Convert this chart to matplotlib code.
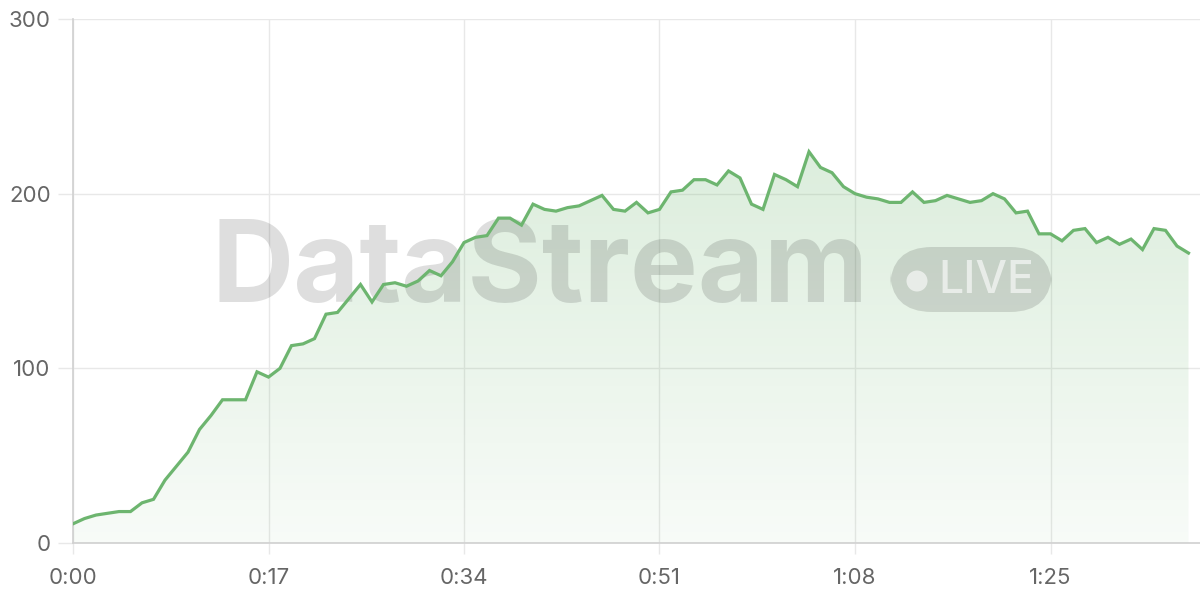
import numpy as np
import matplotlib
matplotlib.use("Agg")
import matplotlib.pyplot as plt
from matplotlib.patches import FancyBboxPatch, Ellipse
from matplotlib.colors import LinearSegmentedColormap

# one reading per minute, 0:00 .. 1:37
values = [11, 14, 16, 17, 18, 18, 23, 25, 36, 44,
          52, 65, 73, 82, 82, 82, 98, 95, 100, 113,
          114, 117, 131, 132, 140, 148, 138, 148, 149, 147,
          150, 156, 153, 161, 172, 175, 176, 186, 186, 182,
          194, 191, 190, 192, 193, 196, 199, 191, 190, 195,
          189, 191, 201, 202, 208, 208, 205, 213, 209, 194,
          191, 211, 208, 204, 224, 215, 212, 204, 200, 198,
          197, 195, 195, 201, 195, 196, 199, 197, 195, 196,
          200, 197, 189, 190, 177, 177, 173, 179, 180, 172,
          175, 171, 174, 168, 180, 179, 170, 166]
minutes = list(range(len(values)))
tick_pos = [0, 17, 34, 51, 68, 85]
tick_labels = ["0:00", "0:17", "0:34", "0:51", "1:08", "1:25"]
y_ticks = [0, 100, 200, 300]

line_color = "#6db56f"
text_color = "#666666"

plt.rcParams['font.family'] = ['Inter', 'DejaVu Sans']

fig = plt.figure(figsize=(12, 6), dpi=100)
ax = fig.add_axes([73/1200, 57/600, 1 - 73/1200, (543 - 19)/600])

ax.set_xlim(0, 98)
ax.set_ylim(0, 300)

# gradient fill under the line
poly = ax.fill_between(minutes, values, 0, color="none", lw=0)
cmap = LinearSegmentedColormap.from_list("g", [(0.427, 0.71, 0.435, 0.05), (0.427, 0.71, 0.435, 0.24)])
grad = np.linspace(0, 1, 256).reshape(-1, 1)
img = ax.imshow(grad, cmap=cmap, origin="lower", aspect="auto",
                extent=[0, 97, 0, 225], zorder=1)
img.set_clip_path(poly.get_paths()[0], transform=ax.transData)

ax.plot(minutes, values, color=line_color, lw=2.3, zorder=5, solid_joinstyle="miter")

# grid / axes styling
ax.set_yticks(y_ticks)
ax.set_xticks(tick_pos)
ax.set_xticklabels(tick_labels)
ax.grid(True, color="#e8e8e8", lw=1, zorder=0)
ax.set_axisbelow(True)
for s in ["top", "right"]:
    ax.spines[s].set_visible(False)
ax.spines["left"].set_color("#d0d0d0")
ax.spines["bottom"].set_color("#d0d0d0")
ax.spines["left"].set_linewidth(1.2)
ax.spines["bottom"].set_linewidth(1.2)
ax.tick_params(axis="y", length=11, width=1, color="#e8e8e8", labelsize=16,
               labelcolor=text_color, pad=5)
ax.tick_params(axis="x", length=8, width=1, color="#e8e8e8", labelsize=16,
               labelcolor=text_color, pad=10)

# watermark
wm = (0, 0, 0, 0.13)
ax.text(540/1200, 1 - 272/600, "DataStream", transform=fig.transFigure,
        fontsize=82, fontweight="bold", color=wm, ha="center", va="center",
        zorder=3, clip_on=False)
badge = FancyBboxPatch((890/1200, 1 - 312/600), 162/1200, 65/600,
                       boxstyle="round,pad=0,rounding_size=0.035",
                       transform=fig.transFigure, fc=wm, ec="none", zorder=3,
                       clip_on=False, mutation_aspect=2)
ax.add_patch(badge)
ax.add_patch(Ellipse((917/1200, 1 - 281/600), 21/1200, 21/600, transform=fig.transFigure,
                     fc=(1, 1, 1, 0.6), ec="none", zorder=4, clip_on=False))
ax.text(986/1200, 1 - 281/600, "LIVE", transform=fig.transFigure,
        fontsize=32, fontweight="medium", color=(1, 1, 1, 0.6),
        ha="center", va="center", zorder=4, clip_on=False)

fig.savefig("out.png", dpi=100)
